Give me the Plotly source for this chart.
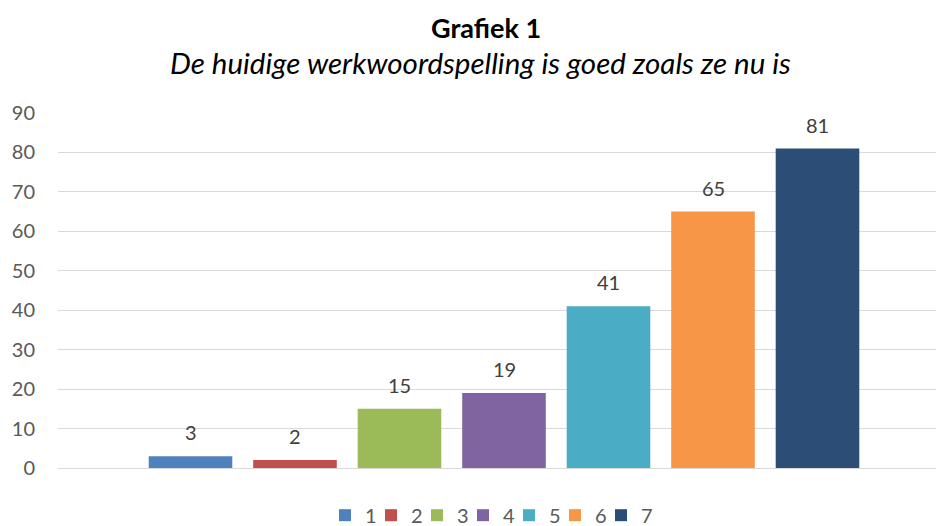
import plotly.graph_objects as go

series_names = ["1", "2", "3", "4", "5", "6", "7"]
values = [3, 2, 15, 19, 41, 65, 81]
colors = ["#4F81BD", "#C0504D", "#9BBB59", "#8064A2", "#4BACC6", "#F79646", "#2C4D75"]
y_ticks = [0, 10, 20, 30, 40, 50, 60, 70, 80, 90]

FONT = "Lato"

fig = go.Figure()
for name, val, col in zip(series_names, values, colors):
    fig.add_trace(go.Bar(
        x=[name], y=[val], name=name,
        marker=dict(color=col, line=dict(width=0)),
    ))

annotations = []
for i, (name, val) in enumerate(zip(series_names, values)):
    annotations.append(dict(x=i, y=val, xref="x", yref="y", text=str(val),
                            showarrow=False, yanchor="middle", yshift=24,
                            font=dict(family=FONT, size=20, color="#404040")))

annotations += [
    dict(text="<b>Grafiek 1</b>", xref="paper", yref="paper",
         x=(486 - 58) / 878, y=(468 - 27) / 355, xanchor="center", yanchor="middle",
         showarrow=False, font=dict(family=FONT, size=27, color="#000000")),
    dict(text="<i>De huidige werkwoordspelling is goed zoals ze nu is</i>", xref="paper", yref="paper",
         x=(480 - 58) / 878, y=(468 - 63) / 355, xanchor="center", yanchor="middle",
         showarrow=False, font=dict(family=FONT, size=29.5, color="#000000")),
]

fig.update_layout(
    template="none",
    width=936, height=526,
    margin=dict(l=58, r=0, t=113, b=58, autoexpand=False),
    paper_bgcolor="white", plot_bgcolor="white",
    barmode="overlay", bargap=0.2,
    showlegend=True,
    legend=dict(orientation="h", x=(486 - 58) / 878, xanchor="center", y=-0.078, yanchor="top",
                font=dict(family=FONT, size=20, color="#595959"),
                itemwidth=30, traceorder="normal", entrywidth=1, entrywidthmode="pixels",
                bgcolor="rgba(0,0,0,0)"),
    xaxis=dict(type="category", categoryarray=series_names, categoryorder="array",
               range=[-1.268, 7.134], showticklabels=False, showgrid=False,
               zeroline=False, showline=False, ticks="", automargin=False),
    yaxis=dict(range=[0, 90], tickvals=y_ticks, showgrid=True, gridcolor="#D9D9D9",
               gridwidth=1, zeroline=True, zerolinecolor="#D9D9D9", zerolinewidth=1,
               showline=False, ticks="", ticklabelstandoff=22, automargin=False,
               tickfont=dict(family=FONT, size=20, color="#595959")),
    annotations=annotations,
)

post = (
    "document.body.style.margin='0';document.body.style.overflow='hidden';"
    "document.querySelectorAll('.legend [clip-path]').forEach(function(e){e.removeAttribute('clip-path');});"
)
fig.write_html("out.html", config={"displayModeBar": False}, post_script=post)
